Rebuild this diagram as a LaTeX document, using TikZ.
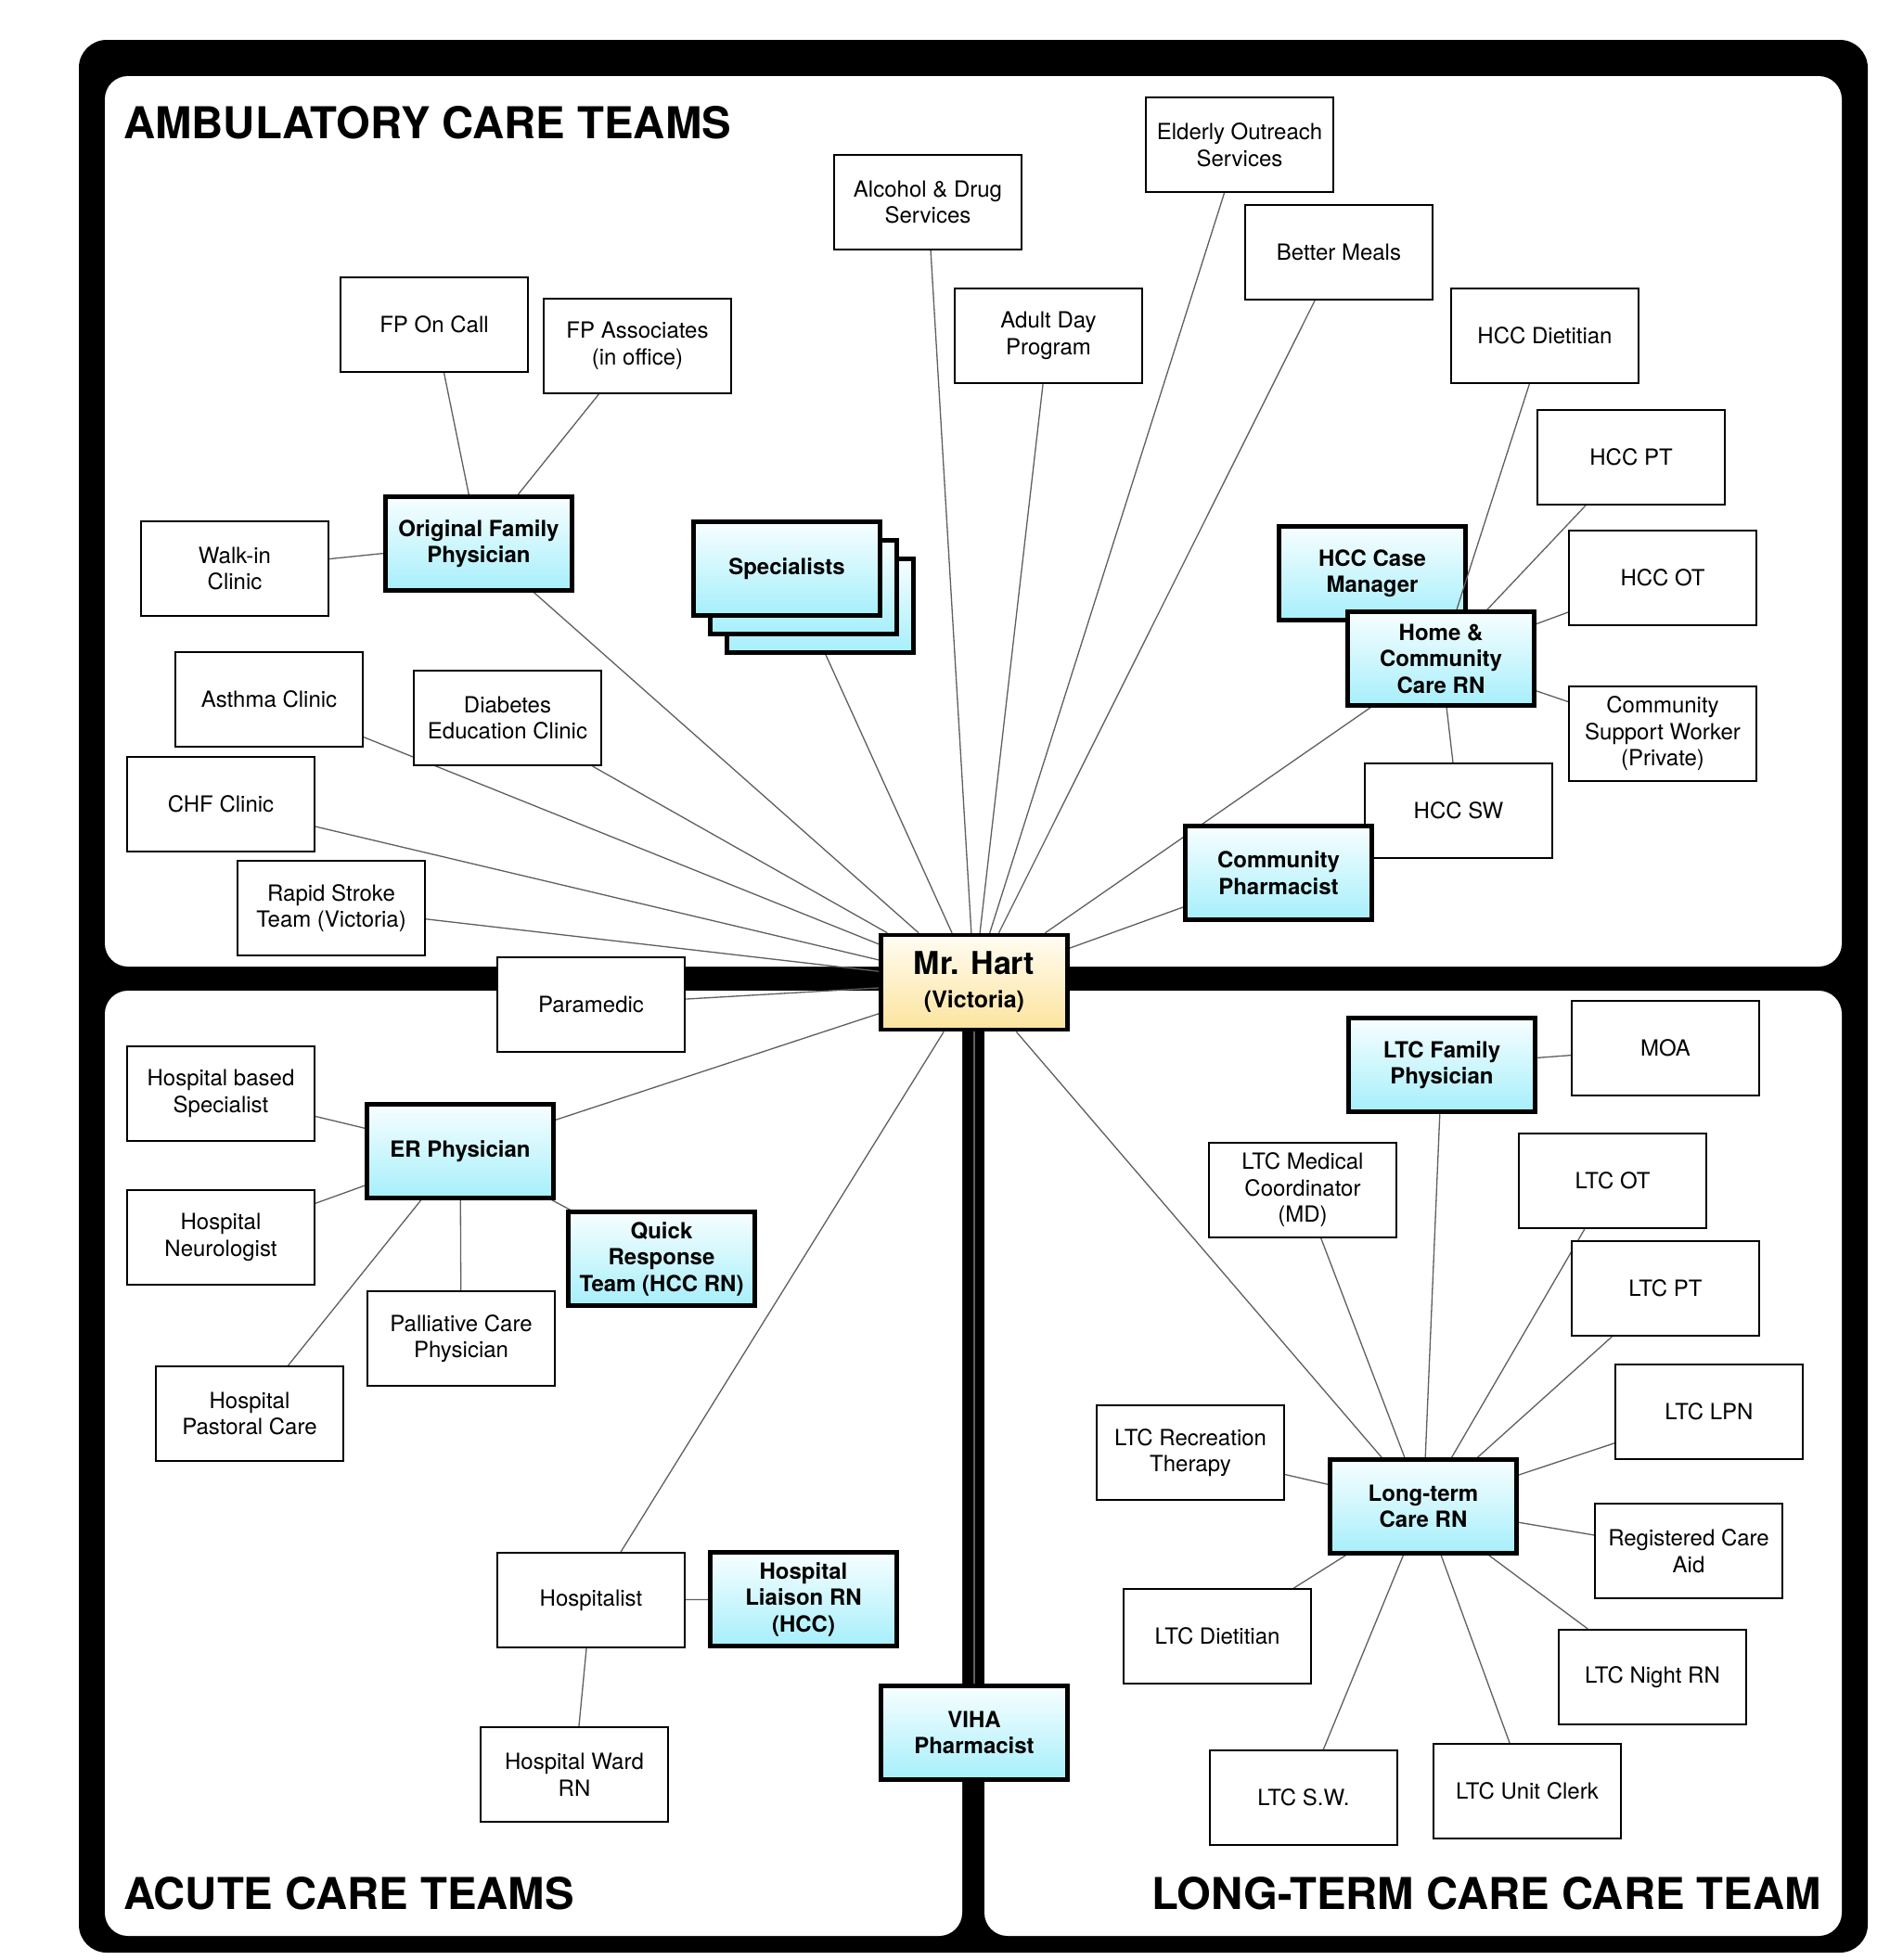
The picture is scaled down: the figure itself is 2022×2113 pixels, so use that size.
\documentclass[tikz,border=0pt]{standalone}
\usepackage{fontspec}
\setmainfont{TeX Gyre Heros}
\definecolor{cyanTop}{RGB}{248,254,255}
\definecolor{cyanBot}{RGB}{166,239,251}
\definecolor{hartTop}{RGB}{255,252,242}
\definecolor{hartBot}{RGB}{252,228,158}
\definecolor{linkgray}{RGB}{95,95,95}
\pgfdeclarelayer{frame}
\pgfdeclarelayer{under}
\pgfdeclarelayer{edges}
\pgfsetlayers{frame,under,edges,main}
\tikzset{
  wbox/.style={draw=black, line width=2pt, fill=white, minimum width=202pt, minimum height=102pt,
    inner sep=0pt, align=center, font=\fontsize{24}{28.5}\selectfont},
  cbox/.style={draw=black, line width=4.5pt, top color=cyanTop, bottom color=cyanBot,
    minimum width=201pt, minimum height=101pt, inner sep=0pt, align=center,
    font=\bfseries\fontsize{24}{28.5}\selectfont},
  hartbox/.style={draw=black, line width=4.5pt, top color=hartTop, bottom color=hartBot,
    minimum width=201pt, minimum height=102pt, inner sep=0pt, align=center,
    font=\bfseries\fontsize{25}{36}\selectfont},
  link/.style={draw=linkgray, line width=1.3pt},
  hdr/.style={font=\bfseries\fontsize{47.3}{50}\selectfont, inner sep=0pt}
}
\begin{document}
\begin{tikzpicture}[x=1pt,y=-1pt]
\useasboundingbox (0,0) rectangle (2022,2113);
\begin{pgfonlayer}{frame}
  \fill[white] (0,0) rectangle (2022,2113);
  \fill[black, rounded corners=30pt] (85,43) rectangle (2013,2105);
  \fill[white, rounded corners=25pt] (113,82) rectangle (1985,1042);
  \fill[white, rounded corners=25pt] (113,1068) rectangle (1037,2087);
  \fill[white, rounded corners=25pt] (1061,1068) rectangle (1985,2087);
\end{pgfonlayer}

% headers
\node[hdr, anchor=base west] (hamb) at (133,149) {AMBULATORY CARE TEAMS};
\node[hdr, anchor=base west] (hacu) at (133,2058) {ACUTE CARE TEAMS};
\node[hdr, anchor=base east] (hltc) at (1963,2058) {LONG-TERM CARE CARE TEAM};

% ambulatory
\node[wbox] (elderly) at (1336,156) {Elderly Outreach\\Services};
\node[wbox] (alcohol) at (1000,218) {Alcohol \& Drug\\Services};
\node[wbox] (meals) at (1443,272) {Better Meals};
\node[wbox] (adult) at (1130,362) {Adult Day\\Program};
\node[wbox] (fpcall) at (468,350) {FP On Call};
\node[wbox] (fpassoc) at (687,373) {FP Associates\\(in office)};
\node[wbox] (hccdiet) at (1665,362) {HCC Dietitian};
\node[wbox] (hccpt) at (1758,493) {HCC PT};
\node[wbox] (hccot) at (1792,623) {HCC OT};
\node[wbox] (csw) at (1792,791) {Community\\Support Worker\\(Private)};
\node[wbox] (hccsw) at (1572,874) {HCC SW};
\begin{pgfonlayer}{under}
\node[cbox] (hcccm) at (1479,618) {HCC Case\\Manager};
\end{pgfonlayer}
\node[cbox] (hccrn) at (1553,710) {Home \&\\Community\\Care RN};
\node[cbox] (pharm) at (1378,941) {Community\\Pharmacist};
\node[cbox] (ofp) at (516,586) {Original Family\\Physician};
\node[wbox] (walkin) at (253,613) {Walk-in\\Clinic};
\node[cbox] (spec3) at (884,653) {};
\node[cbox] (spec2) at (866,633) {};
\node[cbox] (spec) at (848,613) {Specialists};
\node[wbox] (asthma) at (290,754) {Asthma Clinic};
\node[wbox] (diabetes) at (547,774) {Diabetes\\Education Clinic};
\node[wbox] (chf) at (238,867) {CHF Clinic};
\node[wbox] (stroke) at (357,979) {Rapid Stroke\\Team (Victoria)};

% centre
\node[hartbox] (hart) at (1050,1059) {{\fontsize{34}{36}\selectfont Mr. Hart}\\(Victoria)};

% acute
\node[wbox] (paramedic) at (637,1083) {Paramedic};
\node[wbox] (hbs) at (238,1179) {Hospital based\\Specialist};
\node[cbox] (er) at (496,1241) {ER Physician};
\node[wbox] (neuro) at (238,1334) {Hospital\\Neurologist};
\node[cbox] (qrt) at (713,1357) {Quick\\Response\\Team (HCC RN)};
\node[wbox] (palliative) at (497,1443) {Palliative Care\\Physician};
\node[wbox] (pastoral) at (269,1524) {Hospital\\Pastoral Care};
\node[wbox] (hospitalist) at (637,1725) {Hospitalist};
\node[cbox] (liaison) at (866,1724) {Hospital\\Liaison RN\\(HCC)};
\node[wbox] (ward) at (619,1913) {Hospital Ward\\RN};
\node[cbox] (viha) at (1050,1868) {VIHA\\Pharmacist};

% long-term care
\node[cbox] (ltcfp) at (1554,1148) {LTC Family\\Physician};
\node[wbox] (moa) at (1795,1130) {MOA};
\node[wbox] (ltcmed) at (1404,1283) {LTC Medical\\Coordinator\\(MD)};
\node[wbox] (ltcot) at (1738,1273) {LTC OT};
\node[wbox] (ltcpt) at (1795,1389) {LTC PT};
\node[wbox] (ltclpn) at (1842,1522) {LTC LPN};
\node[wbox] (ltcrec) at (1283,1566) {LTC Recreation\\Therapy};
\node[cbox] (ltcrn) at (1534,1624) {Long-term\\Care RN};
\node[wbox] (rca) at (1820,1672) {Registered Care\\Aid};
\node[wbox] (ltcdiet) at (1312,1764) {LTC Dietitian};
\node[wbox] (nightrn) at (1781,1808) {LTC Night RN};
\node[wbox] (ltcsw) at (1405,1938) {LTC S.W.};
\node[wbox] (clerk) at (1646,1931) {LTC Unit Clerk};

\begin{pgfonlayer}{edges}
  \draw[link] (fpcall) -- (ofp);
  \draw[link] (fpassoc) -- (ofp);
  \draw[link] (walkin) -- (ofp);
  \draw[link] (ofp) -- (hart);
  \draw[link] (spec) -- (hart);
  \draw[link] (alcohol) -- (hart);
  \draw[link] (adult) -- (hart);
  \draw[link] (elderly) -- (hart);
  \draw[link] (meals) -- (hart);
  \draw[link] (hccdiet) -- (hccrn);
  \draw[link] (hccpt) -- (hccrn);
  \draw[link] (hccot) -- (hccrn);
  \draw[link] (csw) -- (hccrn);
  \draw[link] (hccsw) -- (hccrn);
  \draw[link] (hccrn) -- (hart);
  \draw[link] (pharm) -- (hart);
  \draw[link] (asthma) -- (hart);
  \draw[link] (diabetes) -- (hart);
  \draw[link] (chf) -- (hart);
  \draw[link] (stroke) -- (hart);
  \draw[link] (paramedic) -- (hart);
  \draw[link] (hart) -- (er);
  \draw[link] (hbs) -- (er);
  \draw[link] (neuro) -- (er);
  \draw[link] (er) -- (qrt);
  \draw[link] (er) -- (palliative);
  \draw[link] (er) -- (pastoral);
  \draw[link] (hart) -- (hospitalist);
  \draw[link] (hospitalist) -- (liaison);
  \draw[link] (hospitalist) -- (ward);
  \draw[link] (hart) -- (viha);
  \draw[link] (hart) -- (ltcrn);
  \draw[link] (ltcfp) -- (ltcrn);
  \draw[link] (moa) -- (ltcfp);
  \draw[link] (ltcmed) -- (ltcrn);
  \draw[link] (ltcot) -- (ltcrn);
  \draw[link] (ltcpt) -- (ltcrn);
  \draw[link] (ltclpn) -- (ltcrn);
  \draw[link] (ltcrec) -- (ltcrn);
  \draw[link] (rca) -- (ltcrn);
  \draw[link] (ltcdiet) -- (ltcrn);
  \draw[link] (nightrn) -- (ltcrn);
  \draw[link] (ltcsw) -- (ltcrn);
  \draw[link] (clerk) -- (ltcrn);
\end{pgfonlayer}
\end{tikzpicture}
\end{document}
